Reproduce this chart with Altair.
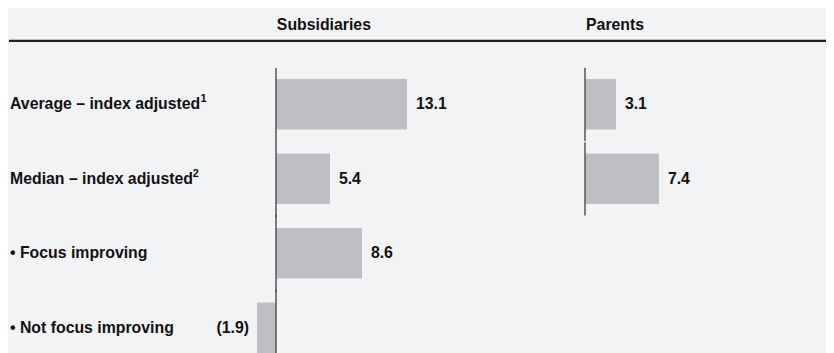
import altair as alt
import pandas as pd

# ---- data ----
rows = [
    "Average – index adjusted",
    "Median – index adjusted",
    "• Focus improving",
    "• Not focus improving",
]
footnotes = ["1", "2"]
subsidiaries = [13.1, 5.4, 8.6, -1.9]
parents_rows = rows[:2]
parents = [3.1, 7.4]

sub_df = pd.DataFrame({"row": rows, "value": subsidiaries})
par_df = pd.DataFrame({"row": parents_rows, "value": parents})
labels_df = pd.DataFrame({"row": rows})

BG = "#f2f3f5"
BAR = "#bebfc3"
INK = "#111111"
AXIS = "#4a4a4a"
FONT = "Liberation Sans"

W, H = 826, 345

yscale = alt.Scale(domain=rows, range=[57.9, 358.9], paddingInner=0.322, paddingOuter=0.161)
Y = alt.Y("row:N", scale=yscale, axis=None, sort=rows)

sub_x = alt.Scale(domain=[-26.8, 55], range=[0, W], nice=False, zero=False)
par_x = alt.Scale(domain=[-57.7, 24.1], range=[0, W], nice=False, zero=False)


def label_expr():
    return "datum.value < 0 ? '(' + format(abs(datum.value), '.1f') + ')' : format(datum.value, '.1f')"


def panel(df, xscale):
    base = alt.Chart(df)
    bars = base.mark_bar(color=BAR).encode(
        x=alt.X("value:Q", scale=xscale, axis=None),
        x2=alt.datum(0),
        y=Y,
    )
    pos = base.transform_filter("datum.value >= 0").transform_calculate(lbl=label_expr()).mark_text(
        align="left", baseline="middle", dx=9, font=FONT, fontSize=16, fontWeight="bold", color=INK
    ).encode(x=alt.X("value:Q", scale=xscale, axis=None), y=Y, text="lbl:N")
    neg = base.transform_filter("datum.value < 0").transform_calculate(lbl=label_expr()).mark_text(
        align="right", baseline="middle", dx=-8, font=FONT, fontSize=16, fontWeight="bold", color=INK
    ).encode(x=alt.X("value:Q", scale=xscale, axis=None), y=Y, text="lbl:N")
    return bars, pos, neg


sb, sp, sn = panel(sub_df, sub_x)
pb, pp, pn = panel(par_df, par_x)

# zero lines
sub_zero_first = alt.Chart(sub_df.iloc[:1]).mark_tick(size=73, thickness=2, color=AXIS).encode(
    x=alt.X("z:Q", scale=sub_x, axis=None), y=Y
).transform_calculate(z="0")
sub_zero_rest = alt.Chart(sub_df.iloc[1:]).mark_tick(size=78, thickness=2, color=AXIS).encode(
    x=alt.X("z:Q", scale=sub_x, axis=None), y=Y
).transform_calculate(z="0")
par_zero = alt.Chart(par_df).mark_tick(size=74, thickness=2, color=AXIS).encode(
    x=alt.X("z:Q", scale=par_x, axis=None), y=Y
).transform_calculate(z="0")

# row labels
row_text = alt.Chart(labels_df).mark_text(
    align="left", baseline="middle", font=FONT, fontSize=16, fontWeight="bold", color=INK
).encode(x=alt.value(2), y=Y, text="row:N")

# footnote superscripts
sup_layers = []
for r, fn, xpos in zip(rows[:2], footnotes, [194.5, 186.5]):
    sup_layers.append(
        alt.Chart(pd.DataFrame({"row": [r], "fn": [fn]})).mark_text(
            align="left", baseline="alphabetic", dy=-2, font=FONT, fontSize=11,
            fontWeight="bold", color=INK
        ).encode(x=alt.value(xpos), y=Y, text="fn:N")
    )

# headers
headers_df = pd.DataFrame({"h": ["Subsidiaries", "Parents"], "px": [319, 613]})
headers = alt.Chart(headers_df).mark_text(
    align="center", baseline="middle", font=FONT, fontSize=16, fontWeight="bold", color=INK
).encode(x=alt.X("px:Q", scale=None), y=alt.value(16), text="h:N")

header_line = alt.Chart(labels_df.iloc[:1]).mark_rule(color="#231f20", strokeWidth=2.5).encode(
    x=alt.value(1), x2=alt.value(W), y=alt.value(31.5)
)

chart = alt.layer(
    header_line, headers, row_text, *sup_layers,
    sb, sp, sn, sub_zero_first, sub_zero_rest,
    pb, pp, pn, par_zero,
).resolve_scale(x="independent").properties(
    width=W, height=H, background=BG, padding=0,
    autosize=alt.AutoSizeParams(type="none"),
).configure_view(stroke=None)

chart.save("out.html", embed_options={"renderer": "svg", "actions": False})
